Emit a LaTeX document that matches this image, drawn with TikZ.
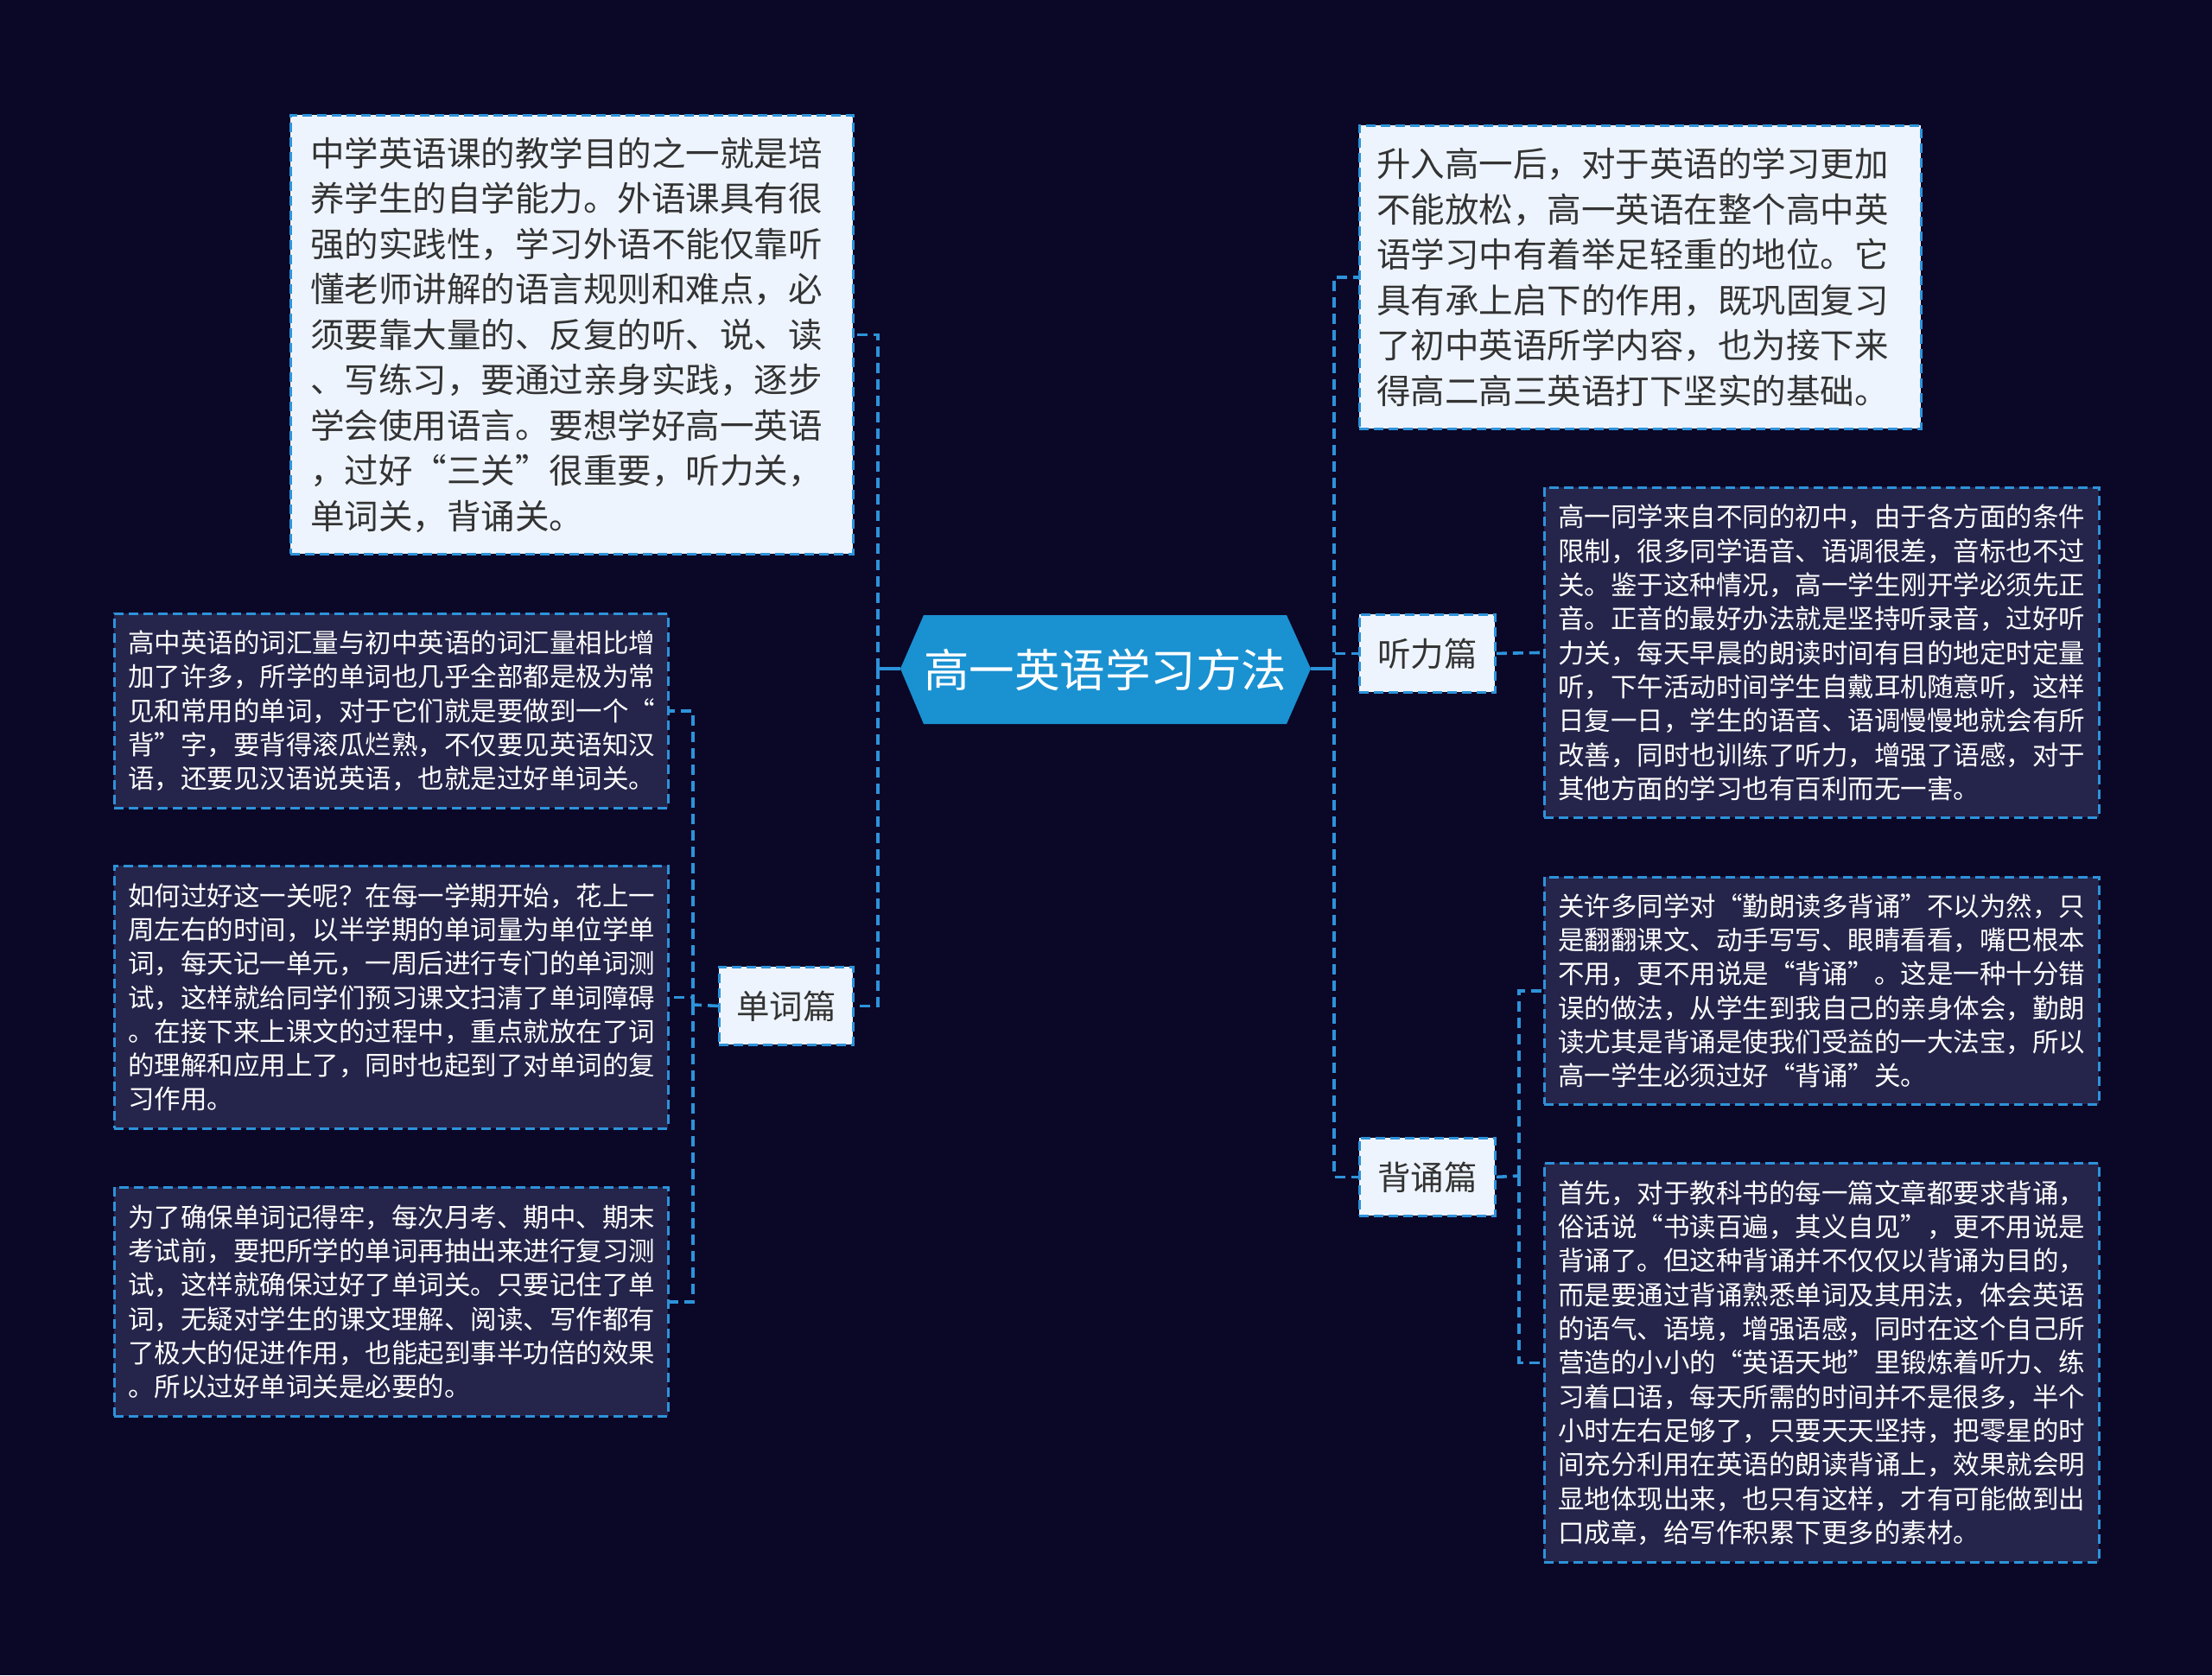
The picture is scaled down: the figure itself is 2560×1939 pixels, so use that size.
\documentclass[tikz,border=0pt]{standalone}
\usepackage{fontspec}
\setmainfont{Noto Sans CJK SC}
\definecolor{bg}{HTML}{0B0727}
\definecolor{lc}{HTML}{2D93DA}
\definecolor{lf}{HTML}{EEF4FD}
\definecolor{df}{HTML}{25244A}
\definecolor{tc}{HTML}{333333}
\definecolor{cf}{HTML}{1A91D1}
\tikzset{
  conn/.style={draw=lc, line width=3.6pt, dash pattern=on 12pt off 7pt},
  bord/.style={draw=lc, line width=2.8pt, dash pattern=on 11pt off 6pt},
  lightbox/.style={bord, fill=lf, text=tc, align=left, anchor=north west, inner ysep=0pt,
    font=\fontsize{39.5}{52.5}\selectfont},
  darkbox/.style={bord, fill=df, text=white, align=left, anchor=north west, inner ysep=0pt, inner xsep=16pt,
    text width=610pt, font=\fontsize{30.5}{39.3}\selectfont},
  labelbox/.style={bord, fill=lf, text=tc, anchor=north west, inner sep=0pt, align=center,
    minimum width=157pt, minimum height=90pt, font=\fontsize{38.5}{46}\selectfont},
}
\begin{document}
\begin{tikzpicture}[x=1pt,y=-1pt]
\fill[bg] (0,0) rectangle (2560,1939);
\useasboundingbox (0,0) rectangle (2560,1939);

% central hexagon
\fill[cf] (1042,774) -- (1069,712) -- (1489,712) -- (1517,774) -- (1489,838) -- (1069,838) -- cycle;
\node[text=white, font=\fontsize{52.5}{60}\selectfont, inner sep=0pt] (center) at (1279,775) {高一英语学习方法};
\coordinate (cL) at (1042,774);
\coordinate (cR) at (1517,774);
\coordinate (sL) at (1016,774);
\coordinate (sR) at (1544,774);

% top left
\node[lightbox, inner xsep=23pt, text width=605pt, minimum height=508pt] (topL) at (335,132) {中学英语课的教学目的之一就是培\\养学生的自学能力。外语课具有很\\强的实践性，学习外语不能仅靠听\\懂老师讲解的语言规则和难点，必\\须要靠大量的、反复的听、说、读\\、写练习，要通过亲身实践，逐步\\学会使用语言。要想学好高一英语\\，过好“三关”很重要，听力关，\\单词关，背诵关。};

% top right
\node[lightbox, inner xsep=20pt, text width=610pt, minimum height=351pt] (topR) at (1572,144) {升入高一后，对于英语的学习更加\\不能放松，高一英语在整个高中英\\语学习中有着举足轻重的地位。它\\具有承上启下的作用，既巩固复习\\了初中英语所学内容，也为接下来\\得高二高三英语打下坚实的基础。};

% listening
\node[labelbox] (ting) at (1572,710) {听力篇};
\node[darkbox, minimum height=382pt] (tingD) at (1786,563) {高一同学来自不同的初中，由于各方面的条件\\限制，很多同学语音、语调很差，音标也不过\\关。鉴于这种情况，高一学生刚开学必须先正\\音。正音的最好办法就是坚持听录音，过好听\\力关，每天早晨的朗读时间有目的地定时定量\\听，下午活动时间学生自戴耳机随意听，这样\\日复一日，学生的语音、语调慢慢地就会有所\\改善，同时也训练了听力，增强了语感，对于\\其他方面的学习也有百利而无一害。};

% words
\node[labelbox, minimum width=155pt] (dan) at (831,1118) {单词篇};
\node[darkbox, minimum height=225pt, text width=609pt] (d1) at (131,709) {高中英语的词汇量与初中英语的词汇量相比增\\加了许多，所学的单词也几乎全部都是极为常\\见和常用的单词，对于它们就是要做到一个“\\背”字，要背得滚瓜烂熟，不仅要见英语知汉\\语，还要见汉语说英语，也就是过好单词关。};
\node[darkbox, minimum height=304pt, text width=609pt] (d2) at (131,1001) {如何过好这一关呢？在每一学期开始，花上一\\周左右的时间，以半学期的单词量为单位学单\\词，每天记一单元，一周后进行专门的单词测\\试，这样就给同学们预习课文扫清了单词障碍\\。在接下来上课文的过程中，重点就放在了词\\的理解和应用上了，同时也起到了对单词的复\\习作用。};
\node[darkbox, minimum height=265pt, text width=609pt] (d3) at (131,1373) {为了确保单词记得牢，每次月考、期中、期末\\考试前，要把所学的单词再抽出来进行复习测\\试，这样就确保过好了单词关。只要记住了单\\词，无疑对学生的课文理解、阅读、写作都有\\了极大的促进作用，也能起到事半功倍的效果\\。所以过好单词关是必要的。};
\coordinate (sD) at (802,1163);

% recitation
\node[labelbox] (bei) at (1572,1316) {背诵篇};
\node[darkbox, minimum height=263pt] (b1) at (1786,1014) {关许多同学对“勤朗读多背诵”不以为然，只\\是翻翻课文、动手写写、眼睛看看，嘴巴根本\\不用，更不用说是“背诵”。这是一种十分错\\误的做法，从学生到我自己的亲身体会，勤朗\\读尤其是背诵是使我们受益的一大法宝，所以\\高一学生必须过好“背诵”关。};
\node[darkbox, minimum height=462pt] (b2) at (1786,1345) {首先，对于教科书的每一篇文章都要求背诵，\\俗话说“书读百遍，其义自见”，更不用说是\\背诵了。但这种背诵并不仅仅以背诵为目的，\\而是要通过背诵熟悉单词及其用法，体会英语\\的语气、语境，增强语感，同时在这个自己所\\营造的小小的“英语天地”里锻炼着听力、练\\习着口语，每天所需的时间并不是很多，半个\\小时左右足够了，只要天天坚持，把零星的时\\间充分利用在英语的朗读背诵上，效果就会明\\显地体现出来，也只有这样，才有可能做到出\\口成章，给写作积累下更多的素材。};
\coordinate (sB) at (1758,1361);

% connectors
\draw[draw=lc, line width=3.6pt] (cL) -- (sL);
\draw[draw=lc, line width=3.6pt] (cR) -- (sR);
\draw[conn] (sL) |- (topL.east);
\draw[conn] (sL) |- (dan.east);
\draw[conn] (sR) |- (topR.west);
\draw[conn] (sR) |- (ting.west);
\draw[conn] (sR) |- (bei.west);
\draw[conn] (ting.east) -- (tingD.west);
\draw[conn] (dan.west) -- (sD);
\draw[conn] (sD) |- (d1.east);
\draw[conn] (sD) |- (d2.east);
\draw[conn] (sD) |- (d3.east);
\draw[conn] (bei.east) -- (sB);
\draw[conn] (sB) |- (b1.west);
\draw[conn] (sB) |- (b2.west);
\end{tikzpicture}
\end{document}
